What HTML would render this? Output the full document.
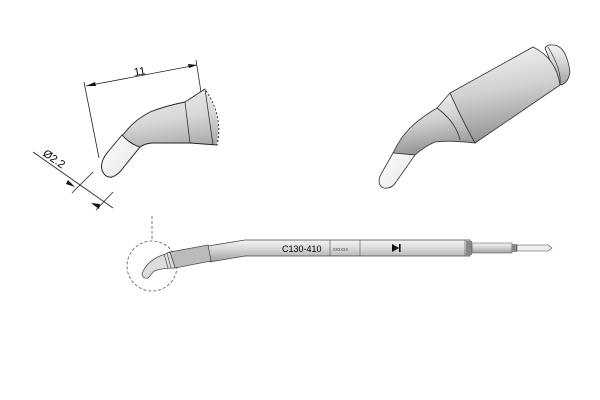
<!DOCTYPE html>
<html><head><meta charset="utf-8"><style>body{margin:0;background:#fff}svg{display:block}</style></head><body>
<svg width="600" height="400" viewBox="0 0 600 400" xmlns="http://www.w3.org/2000/svg" font-family="Liberation Sans, sans-serif">
<defs>
<linearGradient id="g1" x1="0" y1="0" x2="0.2" y2="1"><stop offset="0" stop-color="#f4f4f4"/><stop offset="0.45" stop-color="#d6d6d6"/><stop offset="0.85" stop-color="#a0a0a0"/><stop offset="1" stop-color="#888"/></linearGradient>
<linearGradient id="g2" x1="0" y1="0" x2="0" y2="1"><stop offset="0" stop-color="#f4f4f4"/><stop offset="0.4" stop-color="#d8d8d8"/><stop offset="1" stop-color="#a0a0a0"/></linearGradient>
<linearGradient id="g3" x1="0.4" y1="0" x2="0.6" y2="1"><stop offset="0" stop-color="#f2f2f2"/><stop offset="0.45" stop-color="#cfcfcf"/><stop offset="1" stop-color="#8a8a8a"/></linearGradient>
<linearGradient id="gw" x1="0" y1="0" x2="1" y2="1"><stop offset="0" stop-color="#fff"/><stop offset="1" stop-color="#e4e4e4"/></linearGradient>
</defs>
<!-- left tip -->
<path d="M205,89 L185,102 Q165,106 150,112 Q135,120 127,130 L107,153 Q100,162 102,170 Q105,178 112,177 Q118,175 123,168 L140,147 Q146,143 153,143 L190,143 L217,145 Q224,117 205,89 Z" fill="url(#g1)" stroke="#222" stroke-width="0.9"/>
<path d="M122,135 L107,153 Q100,162 102,170 Q105,178 112,177 Q118,175 123,168 L140,147 Q130,144 122,135 Z" fill="url(#gw)" stroke="#222" stroke-width="0.9"/>
<path d="M205,89 Q224,117 217,145" fill="none" stroke="#fff" stroke-width="1.5" stroke-dasharray="2,2"/>
<path d="M185,102 L190,143 M205,89 L213,145" stroke="#333" stroke-width="0.8" fill="none"/>
<!-- dimension 11 -->
<path d="M84,82 L99,158 M196,60 L201,92 M86,86 L197,65" stroke="#222" stroke-width="0.8" fill="none"/>
<path d="M86,86 l9,-4 l1,4z M197,65 l-9,-1 l1,4z" fill="#111"/>
<text x="134" y="75" font-size="11" transform="rotate(-10 140 72)">11</text>
<!-- dimension 2.2 -->
<path d="M33,152 L113,208 M72,193 L93,172 M96,210 L113,192" stroke="#222" stroke-width="0.8" fill="none"/>
<path d="M75,187 l-9,-3 l2,-4z M100,204 l-1,5 l-8,-6 z" fill="#111"/>
<text x="42" y="160" font-size="11" transform="rotate(35 50 158)">Ø2.2</text>
<!-- right tip -->
<path d="M545,48 Q548,44 552,45 Q566,44 570,72 Q568,84 560,85 Z" fill="url(#g2)" stroke="#333" stroke-width="0.8"/>
<path d="M548,47 Q562,70 560,85" fill="none" stroke="#333" stroke-width="0.7"/>
<path d="M450,93 L533,47 Q556,58 560,85 L475,143 Q462,120 450,93 Z" fill="url(#g3)" stroke="#333" stroke-width="0.8"/>
<path d="M450,93 L437,108 Q420,118 410,128 Q400,138 393,153 L415,155 Q425,146 435,142 Q450,140 475,143 Q462,120 450,93 Z" fill="url(#g3)" stroke="#333" stroke-width="0.8"/>
<path d="M437,108 Q456,122 460,140" fill="none" stroke="#333" stroke-width="0.8"/>
<path d="M393,153 L380,176 Q377,186 384,188 Q392,189 396,182 L415,155 Z" fill="url(#gw)" stroke="#333" stroke-width="0.8"/>
<!-- bottom tool -->
<circle cx="152" cy="266" r="25" fill="none" stroke="#555" stroke-width="0.8" stroke-dasharray="3,2"/>
<path d="M152,216 L152,241" stroke="#555" stroke-width="0.8" stroke-dasharray="3,2"/>
<path d="M208,246 L245,240 L470,240 L470,256 L245,256 L210,262 Z" fill="url(#g2)" stroke="#444" stroke-width="0.7"/>
<path d="M170,252 L208,245 L211,261 L175,268 Z" fill="#bbb" stroke="#444" stroke-width="0.7"/>
<path d="M170,252 L160,256 Q146,262 142,274 Q143,279 148,278 L154,271 Q162,268 175,268 Z" fill="#ddd" stroke="#444" stroke-width="0.7"/>
<path d="M164,254 L168,268 M167,253 L171,268" stroke="#444" stroke-width="0.6"/>
<path d="M330,240 L330,256 M360,240 L360,256 M465,240 L465,256" stroke="#555" stroke-width="0.6"/>
<rect x="466" y="241" width="6" height="14" fill="#888"/>
<path d="M472,243 L512,243 L512,253 L472,253 Z" fill="url(#g2)" stroke="#444" stroke-width="0.6"/>
<rect x="512" y="244" width="5" height="8" fill="#888"/>
<path d="M517,245 L548,245 L552,248 L548,251 L517,251 Z" fill="#eee" stroke="#444" stroke-width="0.6"/>
<text x="282" y="252" font-size="9">C130-410</text>
<text x="333" y="251" font-size="5" fill="#555">xxxxxx</text>
<path d="M392,244 L399,248 L392,252 Z" fill="#111"/><rect x="399" y="244" width="1.6" height="8" fill="#111"/>
</svg>
</body></html>
